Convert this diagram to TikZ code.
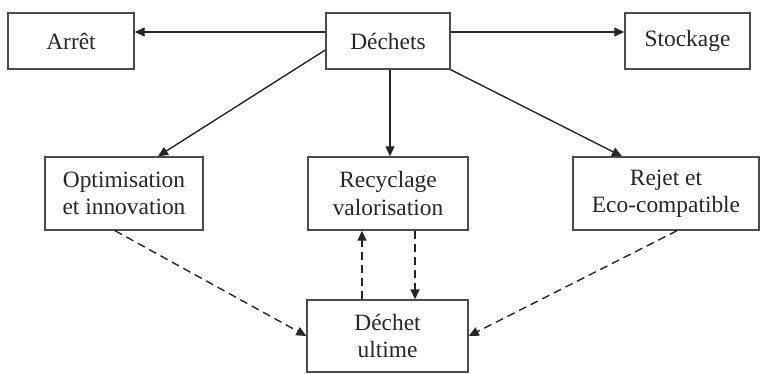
\documentclass[tikz,border=0pt]{standalone}
\usepackage{fontspec}
\setmainfont{Liberation Serif}
\usetikzlibrary{arrows.meta}
\begin{document}
\begin{tikzpicture}[x=1pt,y=1pt,
  box/.style={draw=black!70,line width=1.4pt,inner sep=0pt,align=center,text=black!85,
    font=\fontsize{23.4}{27.5}\selectfont},
  conn/.style={draw=black!85,line width=1.4pt,-{Triangle[length=10pt,width=9pt]}},
  dconn/.style={conn,dash pattern=on 8pt off 5pt}]
\useasboundingbox (0,0) rectangle (762,373);
\node[box,minimum width=126pt,minimum height=56pt] (arret) at (71,332) {Arrêt};
\node[box,minimum width=124pt,minimum height=56pt] (dechets) at (388,332) {Déchets};
\node[box,minimum width=125pt,minimum height=56pt] (stock) at (687.5,332) {Stockage};
\node[box,minimum width=158pt,minimum height=73pt] (optim) at (124,179.5) {Optimisation\\et innovation};
\node[box,minimum width=160pt,minimum height=73pt] (recyc) at (388,179.5) {Recyclage\\valorisation};
\node[box,minimum width=186pt,minimum height=73pt] (rejet) at (666,179.5) {Rejet et\\Eco-compatible};
\node[box,minimum width=161pt,minimum height=72pt] (ultime) at (387.5,37) {Déchet\\ultime};
\draw[conn] ([yshift=9pt]dechets.west) -- ([yshift=9pt]arret.east);
\draw[conn] ([yshift=9pt]dechets.east) -- ([yshift=9pt]stock.west);
\draw[conn] ([yshift=-9pt]dechets.west) -- ([xshift=34pt]optim.north);
\draw[conn] ([xshift=2pt]dechets.south) -- ([xshift=2pt]recyc.north);
\draw[conn] (dechets.south east) -- ([xshift=-44pt]rejet.north);
\draw[dconn] ([xshift=-9pt]optim.south) -- (ultime.west);
\draw[dconn] ([xshift=11pt]rejet.south) -- (ultime.east);
\draw[dconn] ([xshift=-25.5pt]ultime.north) -- ([xshift=-26pt]recyc.south);
\draw[dconn] ([xshift=27pt]recyc.south) -- ([xshift=27.5pt]ultime.north);
\end{tikzpicture}
\end{document}
